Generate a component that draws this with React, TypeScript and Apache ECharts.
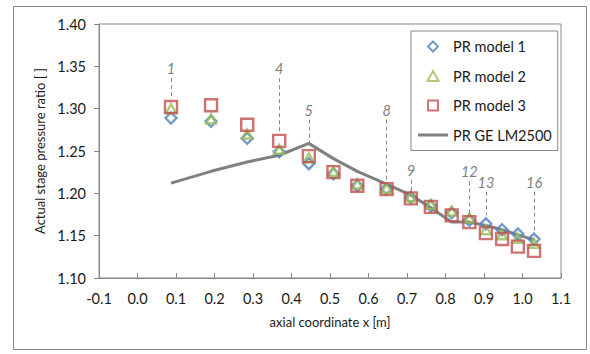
import React, { useEffect, useRef } from "react";
import * as echarts from "echarts";

// Axial position of each compressor stage (m)
const axialX = [0.087, 0.191, 0.285, 0.368, 0.445, 0.509, 0.571, 0.647, 0.71, 0.762, 0.816, 0.862, 0.905, 0.947, 0.988, 1.03];

// Stage pressure ratios per model
const prModel1 = [1.289, 1.285, 1.265, 1.249, 1.235, 1.223, 1.209, 1.205, 1.195, 1.185, 1.177, 1.168, 1.164, 1.157, 1.152, 1.146];
const prModel2 = [1.3, 1.288, 1.27, 1.252, 1.242, 1.226, 1.211, 1.206, 1.196, 1.187, 1.179, 1.171, 1.157, 1.151, 1.147, 1.141];
const prModel3 = [1.302, 1.304, 1.281, 1.262, 1.244, 1.225, 1.209, 1.205, 1.194, 1.184, 1.174, 1.166, 1.153, 1.146, 1.137, 1.132];
const prGE = [1.212, 1.226, 1.237, 1.245, 1.259, 1.241, 1.226, 1.211, 1.198, 1.183, 1.166, 1.166, 1.162, 1.157, 1.151, 1.145];

// Stage number callouts: leader from the label down to the marker
const calloutStages = [1, 4, 5, 8, 9, 12, 13, 16];
const calloutTop = [1.336, 1.336, 1.287, 1.287, 1.216, 1.214, 1.202, 1.202];
const calloutEnd = [1.311, 1.271, 1.259, 1.213, 1.202, 1.176, 1.174, 1.153];

const xTicks = { min: -0.1, max: 1.1, step: 0.1 };
const yTicks = { min: 1.1, max: 1.4, step: 0.05 };

const FONT = "Lato, 'Noto Sans', sans-serif";
const TEXT = "#1a1a1a";
const AXIS = "#868686";

// Marker outlines as paths so the legend keeps their proportions
const DIAMOND = "path://M0,-1L1,0L0,1L-1,0Z";
const TRIANGLE = "path://M0,-1L1,0.8L-1,0.8Z";
const SQUARE = "path://M-1,-1L1,-1L1,1L-1,1Z";
const BAR = "path://M0,0L10,0L10,1L0,1Z";

const zip = (ys: number[]) => axialX.map((x, i) => [x, ys[i]]);

export default function App() {
  const ref = useRef<HTMLDivElement>(null);

  useEffect(() => {
    if (!ref.current) return;
    const chart = echarts.init(ref.current, null, { renderer: "svg" });

    const hollow = (color: string) => ({
      color: "rgba(255,255,255,0)",
      borderColor: color,
      borderWidth: 2.4,
    });

    const callouts = calloutStages.map((s, i) => [
      {
        coord: [axialX[s - 1], calloutTop[i]],
        label: { formatter: String(s) },
      },
      { coord: [axialX[s - 1], calloutEnd[i]] },
    ]);

    chart.setOption({
      animation: false,
      backgroundColor: "#fff",
      textStyle: { fontFamily: FONT },
      graphic: [
        {
          type: "rect",
          z: -1,
          silent: true,
          shape: { x: 13.5, y: 6.5, width: 573, height: 343 },
          style: { fill: "none", stroke: "#898989", lineWidth: 1 },
        },
      ],
      grid: {
        left: 99,
        top: 24,
        right: 29,
        bottom: 76,
        show: true,
        borderColor: "#8c8c8c",
        borderWidth: 1,
        backgroundColor: "transparent",
      },
      legend: {
        orient: "vertical",
        left: 411,
        top: 31,
        padding: [8, 6, 8, 7],
        itemWidth: 30,
        itemHeight: 10,
        itemGap: 14.5,
        backgroundColor: "#fff",
        borderColor: "#888",
        borderWidth: 1,
        textStyle: { fontFamily: FONT, fontSize: 14.5, color: TEXT },
        data: [
          { name: "PR model 1", icon: DIAMOND },
          { name: "PR model 2", icon: TRIANGLE },
          { name: "PR model 3", icon: SQUARE },
          {
            name: "PR GE LM2500",
            icon: BAR,
            itemStyle: { color: "#808080", borderWidth: 0 },
          },
        ],
      },
      xAxis: {
        type: "value",
        min: xTicks.min,
        max: xTicks.max,
        interval: xTicks.step,
        name: "axial coordinate x [m]",
        nameLocation: "middle",
        nameGap: 37,
        nameTextStyle: { fontFamily: FONT, fontSize: 13, color: TEXT },
        axisLine: { show: true, onZero: false, lineStyle: { color: AXIS, width: 1 } },
        axisTick: { show: true, inside: true, length: 5, lineStyle: { color: AXIS } },
        axisLabel: {
          margin: 13,
          fontFamily: FONT,
          fontSize: 14.5,
          color: TEXT,
          formatter: (v: number) => v.toFixed(1),
        },
        splitLine: { show: false },
      },
      yAxis: {
        type: "value",
        min: yTicks.min,
        max: yTicks.max,
        interval: yTicks.step,
        name: "Actual stage pressure ratio [ ]",
        nameLocation: "middle",
        nameGap: 49,
        nameTextStyle: { fontFamily: FONT, fontSize: 13, color: TEXT },
        axisLine: { show: true, onZero: false, lineStyle: { color: AXIS, width: 1 } },
        axisTick: { show: true, inside: false, length: 5, lineStyle: { color: AXIS } },
        axisLabel: {
          margin: 13,
          fontFamily: FONT,
          fontSize: 14.5,
          color: TEXT,
          formatter: (v: number) => v.toFixed(2),
        },
        splitLine: { show: false },
      },
      series: [
        {
          name: "PR GE LM2500",
          type: "line",
          data: zip(prGE),
          symbol: "none",
          z: 1,
          lineStyle: { color: "#808080", width: 3 },
          itemStyle: { color: "#808080" },
          markLine: {
            silent: true,
            symbol: ["none", "none"],
            lineStyle: { color: "#8a8a8a", type: [4, 3], width: 1 },
            label: {
              show: true,
              position: "start",
              distance: 2,
              fontFamily: FONT,
              fontStyle: "italic",
              fontSize: 14.5,
              color: "#7f7f7f",
            },
            emphasis: { disabled: true },
            data: callouts,
          },
        },
        {
          name: "PR model 1",
          type: "scatter",
          data: zip(prModel1),
          symbol: DIAMOND,
          symbolKeepAspect: true,
          symbolSize: 11,
          z: 2,
          itemStyle: hollow("#4f81bd"),
        },
        {
          name: "PR model 2",
          type: "scatter",
          data: zip(prModel2),
          symbol: TRIANGLE,
          symbolKeepAspect: true,
          symbolSize: [10, 10],
          z: 3,
          itemStyle: hollow("#9bbb59"),
        },
        {
          name: "PR model 3",
          type: "scatter",
          data: zip(prModel3),
          symbol: SQUARE,
          symbolKeepAspect: true,
          symbolSize: 12,
          z: 4,
          itemStyle: hollow("#c0504d"),
        },
      ],
    });

    return () => chart.dispose();
  }, []);

  return (
    <div
      ref={ref}
      style={{ position: "fixed", left: 0, top: 0, width: 590, height: 354, background: "#fff" }}
    />
  );
}
